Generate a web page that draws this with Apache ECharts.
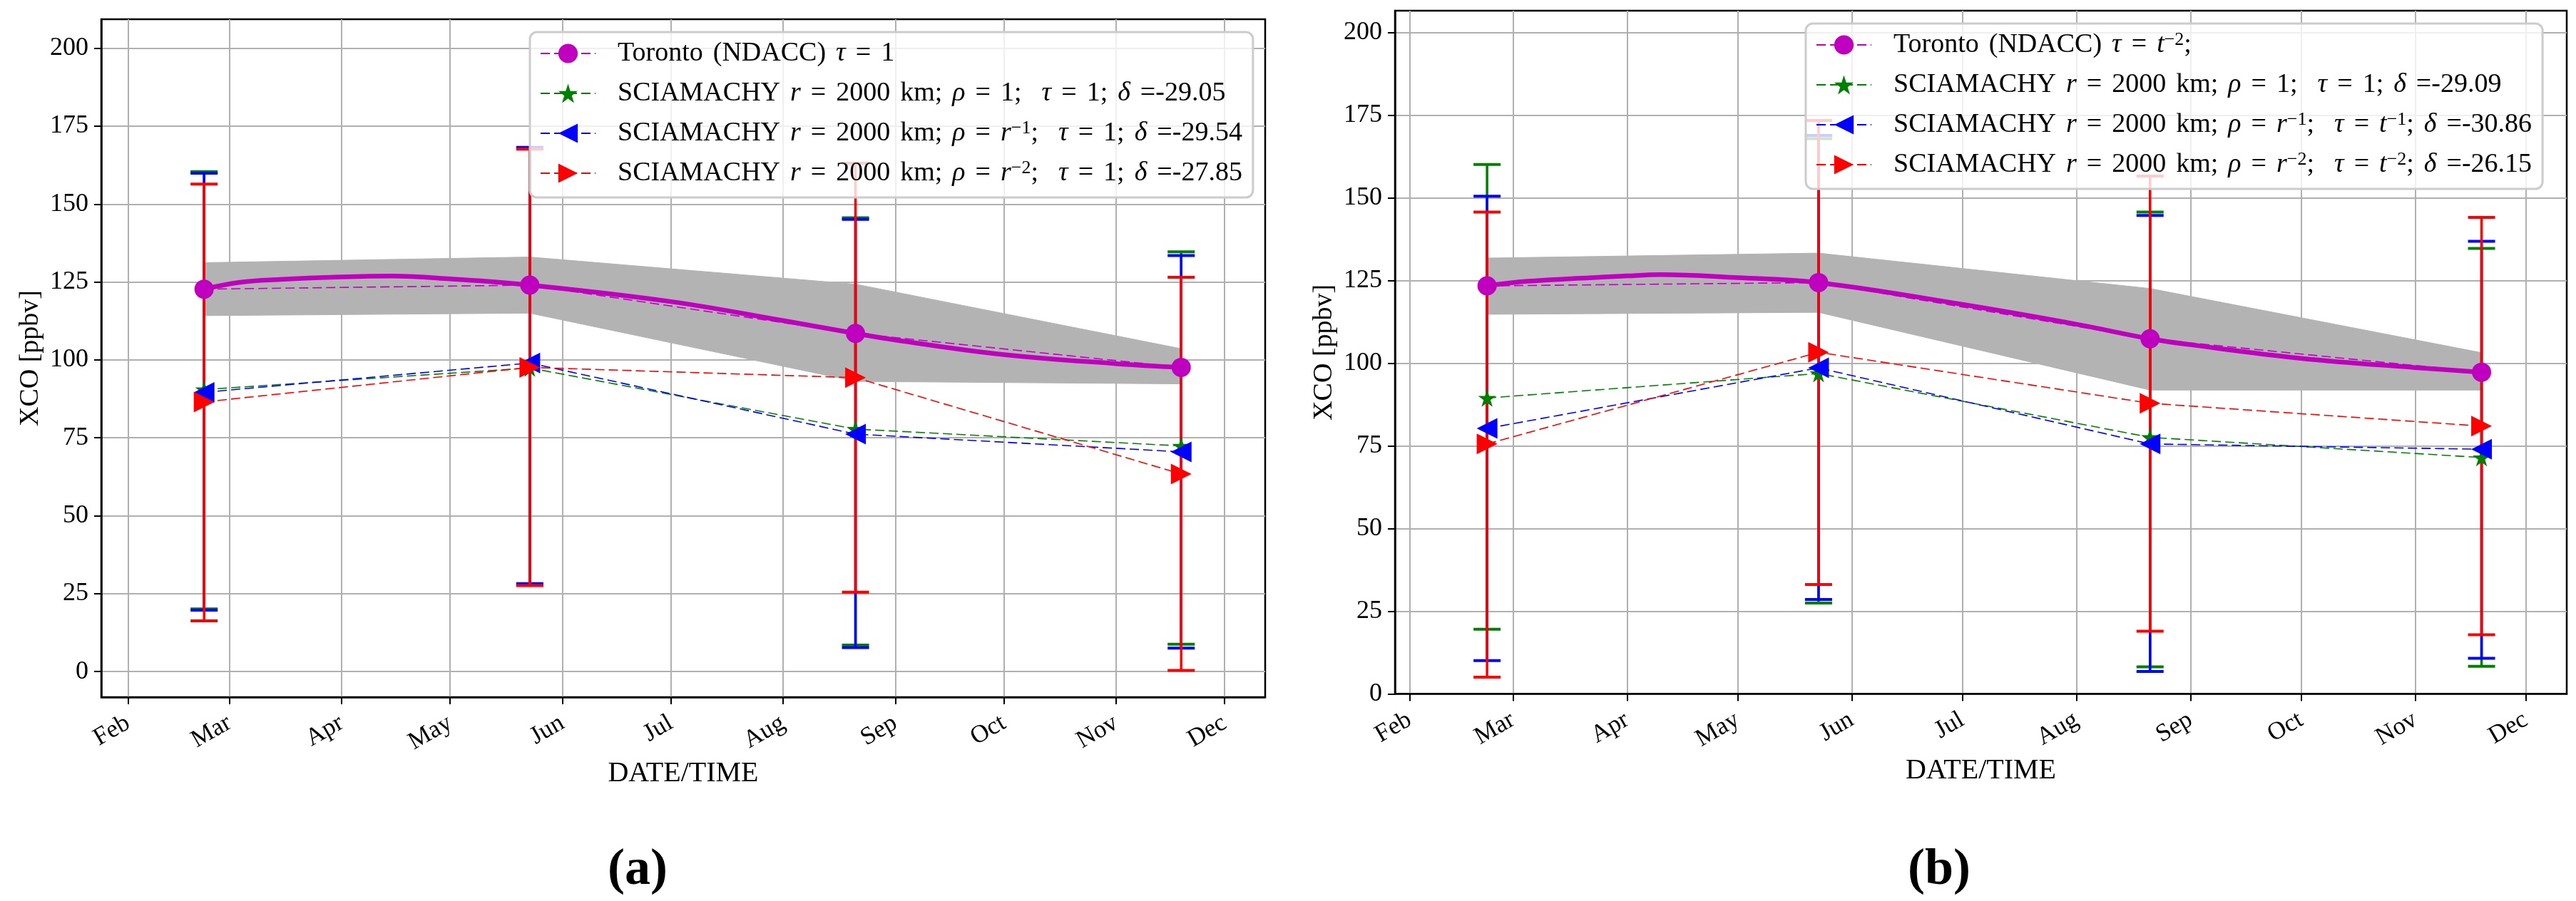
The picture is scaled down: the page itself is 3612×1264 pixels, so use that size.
<!DOCTYPE html>
<html>
<head>
<meta charset="utf-8">
<script src="https://cdn.jsdelivr.net/npm/echarts@6/dist/echarts.min.js"></script>
<style>
html, body { margin: 0; padding: 0; background: #fff; }
#chart { width: 3612px; height: 1264px; }
</style>
</head>
<body>
<div id="chart"></div>
<script>
var FONT = '"Liberation Serif", "DejaVu Serif", serif';

// ---- data ----
// sampling dates, same in both panels
var pointDates = ['2010-02-22', '2010-05-23', '2010-08-21', '2010-11-19'];

// x tick marks and their labels
var monthTicks = ['2010-02-01', '2010-03-01', '2010-04-01', '2010-05-01', '2010-06-01', '2010-07-01',
                  '2010-08-01', '2010-09-01', '2010-10-01', '2010-11-01', '2010-12-01'];
var monthLabels = ['Feb', 'Mar', 'Apr', 'May', 'Jun', 'Jul', 'Aug', 'Sep', 'Oct', 'Nov', 'Dec'];
var yTicks = [0, 25, 50, 75, 100, 125, 150, 175, 200];

// panel (a)
var torontoA = [122.7, 124.0, 108.5, 97.6];
var fitDatesA = ['2010-02-22', '2010-03-04', '2010-03-15', '2010-04-01', '2010-04-15', '2010-05-01', '2010-05-23',
                 '2010-07-01', '2010-08-01', '2010-08-21', '2010-09-01', '2010-10-01', '2010-11-01', '2010-11-19'];
var fitA = [122.7, 124.9, 125.8, 126.6, 126.9, 126.0, 124.0, 118.7, 112.6, 108.5, 106.4, 101.7, 98.8, 97.6];
var bandTopA = [131.2, 133.0, 124.3, 103.6];
var bandLowA = [114.2, 115.0, 93.1, 92.3];
var greenA = [90.5, 97.4, 77.8, 72.4];
var greenLowA = [20.1, 27.8, 8.5, 8.8];
var greenHighA = [160.4, 168.0, 145.6, 134.7];
var blueA = [89.6, 99.0, 76.2, 70.5];
var blueLowA = [19.7, 28.2, 7.7, 7.5];
var blueHighA = [159.9, 168.2, 145.1, 133.5];
var redA = [86.5, 97.6, 94.3, 63.4];
var redLowA = [16.3, 27.6, 25.5, 0.4];
var redHighA = [156.4, 167.6, 163.1, 126.5];

// panel (b)
var torontoB = [123.4, 124.4, 107.4, 97.3];
var fitDatesB = ['2010-02-22', '2010-03-05', '2010-04-01', '2010-04-10', '2010-05-01', '2010-05-23',
                 '2010-07-01', '2010-08-01', '2010-08-21', '2010-09-01', '2010-10-01', '2010-11-01', '2010-11-19'];
var fitB = [123.4, 124.8, 126.4, 126.8, 125.9, 124.4, 117.8, 111.8, 107.4, 105.6, 101.5, 98.7, 97.3];
var bandTopB = [131.8, 133.3, 122.6, 103.2];
var bandLowB = [114.8, 115.4, 91.9, 91.9];
var greenB = [89.5, 96.9, 77.6, 71.5];
var greenLowB = [19.6, 27.5, 8.2, 8.4];
var greenHighB = [160.1, 167.9, 145.7, 134.7];
var blueB = [80.3, 98.6, 75.6, 74.0];
var blueLowB = [10.1, 28.6, 6.8, 10.8];
var blueHighB = [150.5, 168.9, 144.7, 136.9];
var redB = [75.6, 103.3, 87.9, 81.0];
var redLowB = [5.1, 33.1, 19.0, 17.9];
var redHighB = [145.7, 173.4, 156.6, 144.1];

// legend texts (rich text: i = math italic, s = superscript)
var legendText = {
    torA: 'Toronto (NDACC) {i|τ} = 1',
    greenA: 'SCIAMACHY {i|r} = 2000 km; {i|ρ} = 1;  {i|τ} = 1; {i|δ} =-29.05',
    blueA: 'SCIAMACHY {i|r} = 2000 km; {i|ρ} = {i|r}{s|−1};  {i|τ} = 1; {i|δ} =-29.54',
    redA: 'SCIAMACHY {i|r} = 2000 km; {i|ρ} = {i|r}{s|−2};  {i|τ} = 1; {i|δ} =-27.85',
    torB: 'Toronto (NDACC) {i|τ} = {i|t}{s|−2};',
    greenB: 'SCIAMACHY {i|r} = 2000 km; {i|ρ} = 1;  {i|τ} = 1; {i|δ} =-29.09',
    blueB: 'SCIAMACHY {i|r} = 2000 km; {i|ρ} = {i|r}{s|−1};  {i|τ} = {i|t}{s|−1}; {i|δ} =-30.86',
    redB: 'SCIAMACHY {i|r} = 2000 km; {i|ρ} = {i|r}{s|−2};  {i|τ} = {i|t}{s|−2}; {i|δ} =-26.15'
};

var MAGENTA = '#bf00bf', GREEN = '#008000', BLUE = '#0000ff', RED = '#ff0000', BAND = '#b3b3b3';
var STAR = 'path://M50,0 L61.8,35.1 L98.9,35.1 L68.9,56.8 L80.3,91.9 L50,70.2 L19.7,91.9 L31.1,56.8 L1.1,35.1 L38.2,35.1 Z';

function ts(s) {
    return +echarts.time.parse(s);
}
var tickTs = monthTicks.map(ts);

function pairs(dates, values) {
    return dates.map(function(d, i) { return [ts(d), values[i]]; });
}

function triples(dates, lo, hi) {
    return dates.map(function(d, i) { return [ts(d), lo[i], hi[i]]; });
}

// math-like spacing: every blank becomes a fixed width gap
function texSpacing(str) {
    return str.split(' ').join('{w| }');
}

// ---- axes ----
// dates are kept as timestamps on a value axis, ticks at the first of each month
function xAxis(grid, min, max) {
    return {
        type: 'value', gridIndex: grid, min: ts(min), max: ts(max), scale: true,
        name: 'DATE/TIME', nameLocation: 'middle', nameGap: 86,
        nameTextStyle: { fontFamily: FONT, fontSize: 40, color: '#000' },
        axisLine: { show: true, onZero: false, lineStyle: { color: '#000', width: 2.5 } },
        axisTick: { show: true, length: 10, customValues: tickTs, lineStyle: { color: '#000', width: 2 } },
        axisLabel: {
            customValues: tickTs, rotate: 30, margin: 34,
            fontFamily: FONT, fontSize: 35, color: '#000',
            formatter: function(v) {
                var k = tickTs.indexOf(+v);
                return k >= 0 ? monthLabels[k] : '';
            }
        },
        splitLine: { show: true, lineStyle: { color: '#b0b0b0', width: 2 } }
    };
}

function yAxis(grid, min, max) {
    return {
        type: 'value', gridIndex: grid, min: min, max: max,
        name: 'XCO [ppbv]', nameLocation: 'middle', nameGap: 80, nameRotate: 90,
        nameTextStyle: { fontFamily: FONT, fontSize: 38, color: '#000' },
        axisLine: { show: true, onZero: false, lineStyle: { color: '#000', width: 2.5 } },
        axisTick: { show: true, length: 10, customValues: yTicks, lineStyle: { color: '#000', width: 2 } },
        axisLabel: { customValues: yTicks, margin: 18, fontFamily: FONT, fontSize: 36, color: '#000' },
        splitLine: { show: true, lineStyle: { color: '#b0b0b0', width: 2 } }
    };
}

// ---- series builders ----
function bandSeries(grid, top, low) {
    return {
        type: 'custom', name: 'band' + grid, xAxisIndex: grid, yAxisIndex: grid, z: 1, silent: true,
        data: triples(pointDates, top, low),
        encode: { x: 0, y: [1, 2] },
        renderItem: function(params, api) {
            var i = params.dataIndex;
            if (i >= pointDates.length - 1) return null;
            var x0 = ts(pointDates[i]), x1 = ts(pointDates[i + 1]);
            var pts = [api.coord([x0, top[i]]), api.coord([x1, top[i + 1]]),
                       api.coord([x1, low[i + 1]]), api.coord([x0, low[i]])];
            return { type: 'polygon', shape: { points: pts }, style: { fill: BAND, stroke: BAND, lineWidth: 1 } };
        }
    };
}

function fitSeries(grid, dates, values) {
    return {
        type: 'line', name: 'fit' + grid, xAxisIndex: grid, yAxisIndex: grid, z: 2, silent: true,
        data: pairs(dates, values), smooth: 0.4, symbol: 'none',
        lineStyle: { color: MAGENTA, width: 6.5 }
    };
}

function errorSeries(grid, key, color, lo, hi) {
    return {
        type: 'custom', name: 'err_' + key, xAxisIndex: grid, yAxisIndex: grid, z: 3, silent: true,
        data: triples(pointDates, lo, hi),
        encode: { x: 0, y: [1, 2] },
        renderItem: function(params, api) {
            var x = api.value(0);
            var a = api.coord([x, api.value(1)]);
            var b = api.coord([x, api.value(2)]);
            var half = 19;
            return {
                type: 'group',
                children: [
                    { type: 'line', shape: { x1: a[0], y1: a[1], x2: b[0], y2: b[1] }, style: { stroke: color, lineWidth: 3.5 } },
                    { type: 'line', shape: { x1: a[0] - half, y1: a[1], x2: a[0] + half, y2: a[1] }, style: { stroke: color, lineWidth: 4 } },
                    { type: 'line', shape: { x1: b[0] - half, y1: b[1], x2: b[0] + half, y2: b[1] }, style: { stroke: color, lineWidth: 4 } }
                ]
            };
        }
    };
}

function pointSeries(grid, key, color, values, symbol, size, rotate, z) {
    return {
        type: 'line', name: key, xAxisIndex: grid, yAxisIndex: grid, z: z,
        data: pairs(pointDates, values),
        symbol: symbol, symbolSize: size, symbolRotate: rotate, showSymbol: true,
        itemStyle: { color: color, borderWidth: 0 },
        lineStyle: { color: color, width: 1.6, type: [13, 6] },
        emphasis: { disabled: true }
    };
}

function legend(keys, left, top) {
    return {
        data: keys, orient: 'vertical', left: left, top: top, z: 20,
        itemWidth: 77, itemHeight: 34, itemGap: 16,
        padding: [10, 15, 14, 14],
        backgroundColor: 'rgba(255,255,255,0.8)',
        borderColor: '#cccccc', borderWidth: 3, borderRadius: 10,
        selectedMode: false,
        formatter: function(name) { return texSpacing(legendText[name]); },
        textStyle: {
            fontFamily: FONT, fontSize: 38, color: '#000', lineHeight: 40, padding: [0, 0, 0, 26],
            rich: {
                i: { fontFamily: FONT, fontSize: 38, fontStyle: 'italic', lineHeight: 40 },
                s: { fontFamily: FONT, fontSize: 26, lineHeight: 24, verticalAlign: 'top' },
                w: { fontFamily: FONT, fontSize: 38, lineHeight: 40, width: 14 }
            }
        }
    };
}

var chart = echarts.init(document.getElementById('chart'));
chart.setOption({
    animation: false,
    backgroundColor: '#fff',
    grid: [
        { left: 142, top: 27, width: 1632, height: 951, show: true, borderColor: '#000', borderWidth: 2.5, backgroundColor: 'transparent' },
        { left: 1956, top: 15, width: 1643, height: 958.6, show: true, borderColor: '#000', borderWidth: 2.5, backgroundColor: 'transparent' }
    ],
    xAxis: [
        xAxis(0, '2010-01-24 14:00', '2010-12-12 05:00'),
        xAxis(1, '2010-01-28 00:00', '2010-12-12 03:00')
    ],
    yAxis: [
        yAxis(0, -8.2, 209.3),
        yAxis(1, 0, 206.6)
    ],
    legend: [
        legend(['torA', 'greenA', 'blueA', 'redA'], 743, 45),
        legend(['torB', 'greenB', 'blueB', 'redB'], 2532, 33)
    ],
    graphic: [
        { type: 'text', x: 894, y: 1221, style: { text: '(a)', font: 'bold 72px ' + FONT, fill: '#000', align: 'center', verticalAlign: 'middle' } },
        { type: 'text', x: 2719, y: 1221, style: { text: '(b)', font: 'bold 72px ' + FONT, fill: '#000', align: 'center', verticalAlign: 'middle' } }
    ],
    series: [
        bandSeries(0, bandTopA, bandLowA),
        fitSeries(0, fitDatesA, fitA),
        errorSeries(0, 'gA', GREEN, greenLowA, greenHighA),
        errorSeries(0, 'bA', BLUE, blueLowA, blueHighA),
        errorSeries(0, 'rA', RED, redLowA, redHighA),
        pointSeries(0, 'greenA', GREEN, greenA, STAR, 25, 0, 4),
        pointSeries(0, 'blueA', BLUE, blueA, 'triangle', 29, 90, 4),
        pointSeries(0, 'redA', RED, redA, 'triangle', 29, -90, 4),
        pointSeries(0, 'torA', MAGENTA, torontoA, 'circle', 27, 0, 5),

        bandSeries(1, bandTopB, bandLowB),
        fitSeries(1, fitDatesB, fitB),
        errorSeries(1, 'gB', GREEN, greenLowB, greenHighB),
        errorSeries(1, 'bB', BLUE, blueLowB, blueHighB),
        errorSeries(1, 'rB', RED, redLowB, redHighB),
        pointSeries(1, 'greenB', GREEN, greenB, STAR, 25, 0, 4),
        pointSeries(1, 'blueB', BLUE, blueB, 'triangle', 29, 90, 4),
        pointSeries(1, 'redB', RED, redB, 'triangle', 29, -90, 4),
        pointSeries(1, 'torB', MAGENTA, torontoB, 'circle', 27, 0, 5)
    ]
});
</script>
</body>
</html>
